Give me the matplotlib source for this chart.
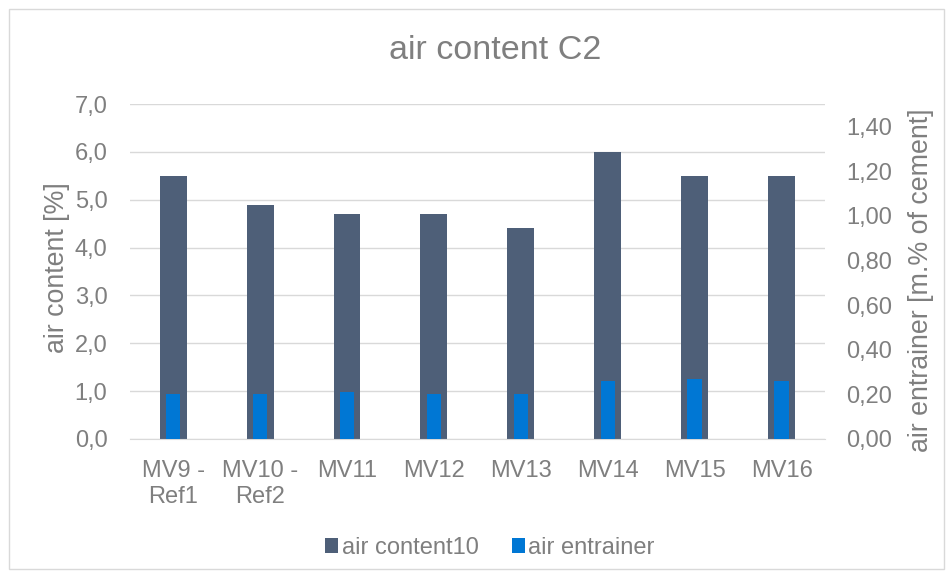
import matplotlib
matplotlib.use("Agg")
import matplotlib.pyplot as plt
from matplotlib.patches import Rectangle
import numpy as np

plt.rcParams['font.family'] = ['Liberation Sans', 'DejaVu Sans']

categories = ["MV9 -\nRef1", "MV10 -\nRef2", "MV11", "MV12", "MV13", "MV14", "MV15", "MV16"]
air_content10 = [5.5, 4.9, 4.7, 4.7, 4.4, 6.0, 5.5, 5.5]
air_entrainer = [0.20, 0.20, 0.21, 0.20, 0.20, 0.26, 0.27, 0.26]
left_ticks = [0, 1, 2, 3, 4, 5, 6, 7]
right_ticks = [0.0, 0.2, 0.4, 0.6, 0.8, 1.0, 1.2, 1.4]

TXT = '#7F7F7F'
DARK = '#4E5F78'
BLUE = '#0077D4'
FS = 17

fig = plt.figure(figsize=(9.53, 5.78), dpi=100)
fig.patches.append(Rectangle((0.009, 0.016), 0.982, 0.968, transform=fig.transFigure,
                             fill=False, edgecolor='#D9D9D9', linewidth=1))
ax = fig.add_axes([0.136, 0.2405, 0.730, 0.5795])
x = np.arange(len(categories))
b1 = ax.bar(x, air_content10, width=0.31, color=DARK, label='air content10', zorder=2)
ax.set_ylim(0, 7)
ax.set_xlim(-0.5, len(categories) - 0.5)
ax.set_yticks(left_ticks)
ax.set_yticklabels([f"{v:.1f}".replace('.', ',') for v in left_ticks])
ax.set_xticks(x)
ax.set_xticklabels(categories, linespacing=1.25)
ax.grid(axis='y', color='#D9D9D9', linewidth=1, zorder=0)
ax.set_axisbelow(True)
for s in ['top', 'right', 'left']:
    ax.spines[s].set_visible(False)
ax.spines['bottom'].set_color('#D9D9D9')
ax.tick_params(axis='both', length=0, colors=TXT, labelsize=FS)
ax.tick_params(axis='y', pad=16)
ax.tick_params(axis='x', pad=15)

ax2 = ax.twinx()
b2 = ax2.bar(x, air_entrainer, width=0.17, color=BLUE, label='air entrainer', zorder=3)
ax2.set_ylim(0, 1.5)
ax2.set_yticks(right_ticks)
ax2.set_yticklabels([f"{v:.2f}".replace('.', ',') for v in right_ticks])
for s in ['top', 'right', 'left', 'bottom']:
    ax2.spines[s].set_visible(False)
ax2.tick_params(axis='y', length=0, colors=TXT, labelsize=FS, pad=15)

fig.text(0.0598, 0.5363, 'air content [%]', rotation=90, ha='center', va='center',
         color=TXT, fontsize=19.3)
fig.text(0.9664, 0.5156, 'air entrainer [m.% of cement]', rotation=90, ha='center',
         va='center', color=TXT, fontsize=19.3)

fig.text(0.520, 0.913, 'air content C2', ha='center', va='center', color=TXT, fontsize=24.5)

fig.legend(handles=[b1, b2], labels=['air content10', 'air entrainer'], loc='center',
           bbox_to_anchor=(0.514, 0.052), ncol=2, frameon=False, fontsize=FS,
           labelcolor=TXT, handlelength=0.55, handleheight=0.55, handletextpad=0.15,
           columnspacing=1.4)

fig.savefig('out.png', dpi=100)
